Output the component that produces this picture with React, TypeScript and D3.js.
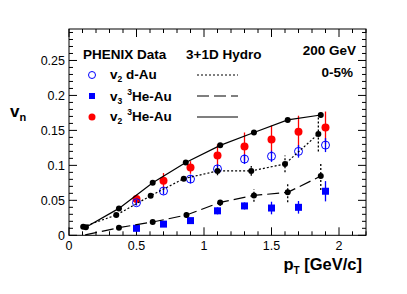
import React from 'react';
import * as d3 from 'd3';

// PHENIX data points
const ptData = [0.5, 0.7, 0.9, 1.1, 1.3, 1.5, 1.7, 1.9];
const v2HeAu = [0.052, 0.078, 0.097, 0.114, 0.127, 0.137, 0.148, 0.154];
const v2HeAuErr = [0.006, 0.011, 0.009, 0.016, 0.02, 0.02, 0.023, 0.023];
const v2dAu = [0.0466, 0.0633, 0.0804, 0.095, 0.109, 0.113, 0.120, 0.129];
const v2dAuErr = [0.004, 0.005, 0.006, 0.006, 0.007, 0.008, 0.009, 0.01];
const v3HeAu = [0.010, 0.016, 0.021, 0.035, 0.042, 0.039, 0.040, 0.063];
const v3HeAuErr = [0.003, 0.004, 0.003, 0.005, 0.005, 0.009, 0.009, 0.0145];

// 3+1D hydro curves
const hydroSolidPt = [0.125, 0.37, 0.62, 0.865, 1.12, 1.37, 1.62, 1.865];
const hydroSolid = [0.0114, 0.0385, 0.075, 0.104, 0.1286, 0.147, 0.165, 0.172];
const hydroSolidErr = [0.001, 0.001, 0.001, 0.001, 0.001, 0.001, 0.002, 0.004];
const hydroDotPt = [0.105, 0.35, 0.605, 0.85, 1.10, 1.35, 1.60, 1.847];
const hydroDot = [0.0123, 0.029, 0.0566, 0.081, 0.092, 0.092, 0.102, 0.145];
const hydroDotErr = [0.001, 0.002, 0.002, 0.003, 0.006, 0.007, 0.012, 0.025];
const hydroDashPt = [0.12, 0.37, 0.62, 0.87, 1.12, 1.37, 1.62, 1.865];
const hydroDash = [0.0005, 0.0109, 0.019, 0.029, 0.047, 0.057, 0.0614, 0.0847];
const hydroDashErr = [0, 0.001, 0.001, 0.004, 0.005, 0.009, 0.014, 0.02];

const xTicks = [0, 0.5, 1, 1.5, 2];
const yTicks = [0, 0.05, 0.1, 0.15, 0.2, 0.25];

const W = 407, H = 294;
const L = 69, R = 366, T = 29, B = 235.3;
const font = 'Liberation Sans, Arial, Helvetica, sans-serif';

export default function App() {
  const x = d3.scaleLinear().domain([0, 2.2]).range([L, R]);
  const y = d3.scaleLinear().domain([0, 0.295]).range([B, T]);

  const xMinor = d3.range(0, 2.2001, 0.1);
  const yMinor = d3.range(0, 0.2951, 0.01);
  const line = d3.line<[number, number]>().x(d => x(d[0])).y(d => y(d[1]));

  const zip = (a: number[], b: number[]) => a.map((v, i) => [v, b[i]] as [number, number]);

  const errBars = (xs: number[], ys: number[], es: number[], color: string, dash?: string) =>
    xs.map((v, i) => (
      <line key={i} x1={x(v)} x2={x(v)} y1={y(ys[i] - es[i])} y2={y(ys[i] + es[i])}
        stroke={color} strokeWidth={1.3} strokeDasharray={dash} />
    ));

  const hydro = (xs: number[], ys: number[], es: number[], dash?: string) => (
    <g>
      <path d={line(zip(xs, ys)) || ''} fill="none" stroke="#000" strokeWidth={1.2} strokeDasharray={dash} />
      {errBars(xs, ys, es, '#000', dash ? '2,2' : undefined)}
      {xs.map((v, i) => ys[i] > 0.004 ? <circle key={i} cx={x(v)} cy={y(ys[i])} r={3} fill="#000" /> : null)}
    </g>
  );

  return (
    <svg width={W} height={H} style={{ position: 'absolute', left: 0, top: 0, fontFamily: font }}>
      <rect x={0} y={0} width={W} height={H} fill="#fff" />
      {/* axes frame */}
      <rect x={L} y={T} width={R - L} height={B - T} fill="none" stroke="#000" strokeWidth={1} />
      {xMinor.map((v, i) => {
        const major = Math.abs(v * 2 - Math.round(v * 2)) < 1e-6;
        const len = major ? 8 : 4;
        return (
          <g key={'xt' + i}>
            <line x1={x(v)} x2={x(v)} y1={B} y2={B - len} stroke="#000" />
            <line x1={x(v)} x2={x(v)} y1={T} y2={T + len} stroke="#000" />
          </g>
        );
      })}
      {yMinor.map((v, i) => {
        const major = Math.abs(v * 20 - Math.round(v * 20)) < 1e-6;
        const len = major ? 8 : 4;
        return (
          <g key={'yt' + i}>
            <line x1={L} x2={L + len} y1={y(v)} y2={y(v)} stroke="#000" />
            <line x1={R} x2={R - len} y1={y(v)} y2={y(v)} stroke="#000" />
          </g>
        );
      })}
      {xTicks.map(v => (
        <text key={'xl' + v} x={x(v)} y={250} textAnchor="middle" fontSize={12.5}>{String(v)}</text>
      ))}
      {yTicks.map(v => (
        <text key={'yl' + v} x={65} y={y(v) + 4.5} textAnchor="end" fontSize={12.5}>{String(v)}</text>
      ))}

      {/* axis titles */}
      <text x={10} y={117} fontSize={17} fontWeight="bold">v<tspan fontSize={11} dy={4}>n</tspan></text>
      <text x={362} y={270} textAnchor="end" fontSize={16.5} fontWeight="bold">p<tspan fontSize={10} dy={4}>T</tspan><tspan dy={-4}> [GeV/c]</tspan></text>

      {/* data */}
      {errBars(ptData, v2HeAu, v2HeAuErr, '#f00')}
      {ptData.map((v, i) => <circle key={'r' + i} cx={x(v)} cy={y(v2HeAu[i])} r={4} fill="#f00" />)}
      {errBars(ptData, v2dAu, v2dAuErr, '#00f')}
      {ptData.map((v, i) => <circle key={'b' + i} cx={x(v)} cy={y(v2dAu[i])} r={4} fill="none" stroke="#00f" strokeWidth={1} />)}
      {errBars(ptData, v3HeAu, v3HeAuErr, '#00f')}
      {ptData.map((v, i) => <rect key={'s' + i} x={x(v) - 3.5} y={y(v3HeAu[i]) - 3.5} width={7} height={7} fill="#00f" />)}

      {/* hydro */}
      {hydro(hydroSolidPt, hydroSolid, hydroSolidErr)}
      {hydro(hydroDotPt, hydroDot, hydroDotErr, '2,2')}
      {hydro(hydroDashPt, hydroDash, hydroDashErr, '12,5')}

      {/* legend */}
      <text x={83} y={59} fontSize={13.5} fontWeight="bold">PHENIX Data</text>
      <text x={186} y={59} fontSize={13.5} fontWeight="bold">3+1D Hydro</text>
      <circle cx={92} cy={75} r={3.5} fill="none" stroke="#00f" />
      <rect x={89} y={93} width={6} height={6} fill="#00f" />
      <circle cx={92} cy={117} r={3.5} fill="#f00" />
      <text x={110} y={79} fontSize={13.5} fontWeight="bold">v<tspan fontSize={8.5} dy={3}>2</tspan><tspan dy={-3}> d-Au</tspan></text>
      <text x={110} y={101} fontSize={13.5} fontWeight="bold">v<tspan fontSize={8.5} dy={3}>3</tspan><tspan fontSize={8.5} dy={-9} dx={5}>3</tspan><tspan dy={6}>He-Au</tspan></text>
      <text x={110} y={121} fontSize={13.5} fontWeight="bold">v<tspan fontSize={8.5} dy={3}>2</tspan><tspan fontSize={8.5} dy={-9} dx={5}>3</tspan><tspan dy={6}>He-Au</tspan></text>
      <line x1={197} x2={238} y1={75} y2={75} stroke="#000" strokeWidth={1.2} strokeDasharray="2,2" />
      <line x1={197} x2={238} y1={96} y2={96} stroke="#000" strokeWidth={1.2} strokeDasharray="12,5" />
      <line x1={197} x2={238} y1={117} y2={117} stroke="#000" strokeWidth={1.2} />

      <text x={356} y={55} textAnchor="end" fontSize={13.5} fontWeight="bold">200 GeV</text>
      <text x={353} y={77} textAnchor="end" fontSize={13.5} fontWeight="bold">0-5%</text>
    </svg>
  );
}
